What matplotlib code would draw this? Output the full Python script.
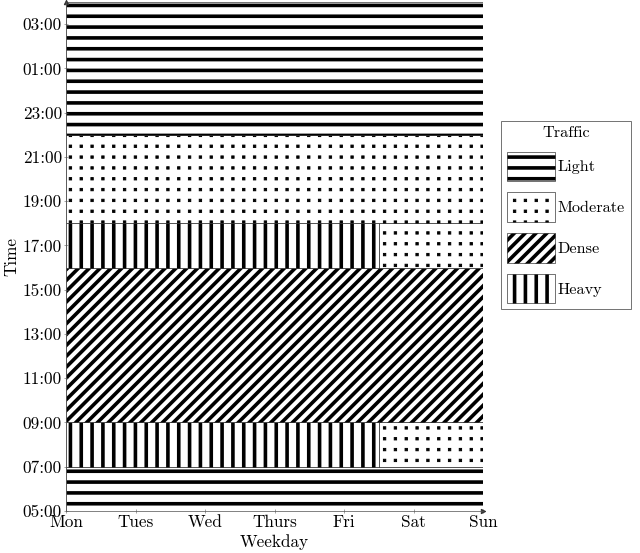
import numpy as np
import matplotlib
matplotlib.use('Agg')
import matplotlib.pyplot as plt
from matplotlib import hatch as mhatch
from matplotlib.path import Path

plt.rcParams['font.family'] = 'cmr10'
plt.rcParams['axes.formatter.use_mathtext'] = True
plt.rcParams['hatch.linewidth'] = 4.0

days = ['Mon', 'Tues', 'Wed', 'Thurs', 'Fri', 'Sat', 'Sun']
hour_ticks = [5, 7, 9, 11, 13, 15, 17, 19, 21, 23, 25, 27]
hour_labels = ['%02d:00' % (h % 24) for h in hour_ticks]

levels = ['Light', 'Moderate', 'Dense', 'Heavy']
level_hatch = {'Light': '-', 'Moderate': '.', 'Dense': '//', 'Heavy': '|'}
level_hatch_lw = {'Light': 4.0, 'Moderate': 1.0, 'Dense': 4.0, 'Heavy': 4.0}

# blocks of traffic: level, day range (Mon=0 .. Sun=6), hour range
block_level = ['Light', 'Heavy', 'Moderate', 'Dense', 'Heavy', 'Moderate', 'Moderate', 'Light']
block_day_from = [0, 0, 4.5, 0, 0, 4.5, 0, 0]
block_day_to = [6, 4.5, 6, 6, 4.5, 6, 6, 6]
block_start = [5, 7, 7, 9, 16, 16, 18, 22]
block_end = [7, 9, 9, 16, 18, 18, 22, 28]


# '.' hatch as a plain (non staggered) grid of small square dots
class GridDots(mhatch.HatchPatternBase):
	def __init__(self, hatch, density):
		self.num_rows = hatch.count('.') * density
		sq = Path.unit_rectangle()
		self.shape_vertices = sq.vertices - 0.5
		self.shape_codes = sq.codes
		self.num_vertices = (self.num_rows + 1) ** 2 * len(sq.vertices) if self.num_rows else 0

	def set_vertices_and_codes(self, vertices, codes):
		offset = 1.0 / self.num_rows
		shape = self.shape_vertices * offset * 0.22
		vparts = []
		cparts = []
		for row in range(self.num_rows + 1):
			for col in range(self.num_rows + 1):
				vparts.append(shape + [col * offset + offset / 2, row * offset + offset / 2])
				cparts.append(self.shape_codes)
		np.concatenate(vparts, out=vertices)
		np.concatenate(cparts, out=codes)


mhatch._hatch_types = [GridDots if t is mhatch.SmallFilledCircles else t for t in mhatch._hatch_types]

dpi = 65
fig = plt.figure(figsize=(640 / dpi, 553 / dpi), dpi=dpi)
ax = fig.add_axes([66 / 640, 42 / 553, 417 / 640, 509 / 553])

handles = {}
for i in range(len(block_level)):
	lvl = block_level[i]
	with plt.rc_context({'hatch.linewidth': level_hatch_lw[lvl]}):
		b = ax.bar(block_day_from[i], block_end[i] - block_start[i],
			width=block_day_to[i] - block_day_from[i], bottom=block_start[i],
			align='edge', facecolor='white', edgecolor='black', linewidth=0.6,
			hatch=level_hatch[lvl], label=lvl)
	for p in b.patches:
		if hasattr(p, 'set_hatch_linewidth'):
			p.set_hatch_linewidth(level_hatch_lw[lvl])
	if lvl not in handles:
		handles[lvl] = b

ax.set_xlim(0, 6)
ax.set_ylim(5, 28)
ax.set_xticks(range(len(days)))
ax.set_xticklabels(days)
ax.set_yticks(hour_ticks)
ax.set_yticklabels(hour_labels)
ax.tick_params(labelsize=19, direction='inout', length=5, width=0.6, colors='#555555', labelcolor='black', pad=2)
ax.spines['top'].set_visible(False)
ax.spines['right'].set_visible(False)
ax.spines['left'].set_color('#555555')
ax.spines['bottom'].set_color('#555555')
ax.plot(1, 0, '>', color='#333333', ms=5, transform=ax.transAxes, clip_on=False)
ax.plot(0, 1, '^', color='#333333', ms=5, transform=ax.transAxes, clip_on=False)

ax.set_xlabel('Weekday', fontsize=19, labelpad=4)
ax.set_ylabel('Time', fontsize=19, labelpad=4)

leg = fig.legend([handles[l] for l in levels], levels, title='Traffic',
	loc='upper left', bbox_to_anchor=(501 / 640, 1 - 121 / 553),
	fontsize=18, title_fontsize=18, fancybox=False, edgecolor='#444444',
	handlelength=3.0, handleheight=2.4, handletextpad=0.15, labelspacing=0.7,
	borderpad=0.35, borderaxespad=0)
leg.get_frame().set_linewidth(1.0)
for h, lvl in zip(leg.legend_handles, levels):
	if hasattr(h, 'set_hatch_linewidth'):
		h.set_hatch_linewidth(level_hatch_lw[lvl])

fig.savefig('out.png', dpi=dpi)
